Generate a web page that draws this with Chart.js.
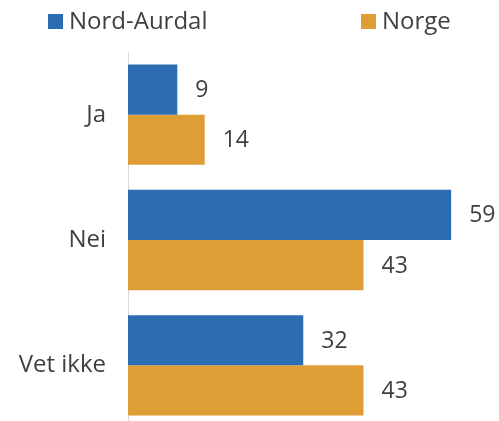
<!DOCTYPE html>
<html>
<head>
<meta charset="utf-8">
<script src="https://cdn.jsdelivr.net/npm/chart.js@4/dist/chart.umd.min.js"></script>
<style>
  html, body { margin: 0; padding: 0; background: #fff; overflow: hidden; width: 499px; height: 421px; }
  #wrap { position: absolute; left: 0; top: 0; width: 499px; height: 430px; }
  .leg { position: absolute; top: 5px; font-family: "Open Sans", sans-serif; font-size: 24px; color: #404040; line-height: 30px; white-space: nowrap; }
  .leg span.box { display: inline-block; width: 15px; height: 15px; margin-right: 6px; vertical-align: 0px; }
</style>
</head>
<body>
<div id="wrap">
  <canvas id="c" width="499" height="430"></canvas>
</div>
<script>
const categories = ["Ja", "Nei", "Vet ikke"];
const seriesNames = ["Nord-Aurdal", "Norge"];
const nordAurdal = [9, 59, 32];
const norge = [14, 43, 43];
const colors = ["#2B6CB2", "#DF9D36"];
const legendX = [48, 361];

// HTML legend built from series names
seriesNames.forEach((name, i) => {
  const d = document.createElement('div');
  d.className = 'leg';
  d.style.left = legendX[i] + 'px';
  const b = document.createElement('span');
  b.className = 'box';
  b.style.background = colors[i];
  d.appendChild(b);
  d.appendChild(document.createTextNode(name));
  document.getElementById('wrap').appendChild(d);
});

const valueLabels = {
  id: 'valueLabels',
  afterDatasetsDraw(chart) {
    const ctx = chart.ctx;
    ctx.save();
    ctx.font = '23px "Open Sans", sans-serif';
    ctx.fillStyle = '#404040';
    ctx.textAlign = 'left';
    ctx.textBaseline = 'middle';
    chart.data.datasets.forEach((ds, di) => {
      chart.getDatasetMeta(di).data.forEach((bar, i) => {
        ctx.fillText(String(ds.data[i]), bar.x + 18, bar.y + 1);
      });
    });
    ctx.restore();
  }
};

new Chart(document.getElementById('c'), {
  type: 'bar',
  data: {
    labels: categories,
    datasets: [
      { label: seriesNames[0], data: nordAurdal, backgroundColor: colors[0], barPercentage: 1, categoryPercentage: 0.8 },
      { label: seriesNames[1], data: norge, backgroundColor: colors[1], barPercentage: 1, categoryPercentage: 0.8 }
    ]
  },
  options: {
    indexAxis: 'y',
    responsive: false,
    devicePixelRatio: 1,
    animation: false,
    layout: { padding: { top: 52, right: 15, bottom: 2, left: 0 } },
    plugins: { legend: { display: false }, tooltip: { enabled: false } },
    scales: {
      x: { display: false, min: 0, max: 65 },
      y: {
        grid: { display: false, drawTicks: false },
        border: { display: true, color: '#d9d9d9', width: 1 },
        ticks: { color: '#404040', font: { family: '"Open Sans", sans-serif', size: 24 }, padding: 22 },
        afterFit(scale) { scale.width = 128; scale.paddingTop = 0; scale.paddingBottom = 0; }
      }
    }
  },
  plugins: [valueLabels]
});
</script>
</body>
</html>
